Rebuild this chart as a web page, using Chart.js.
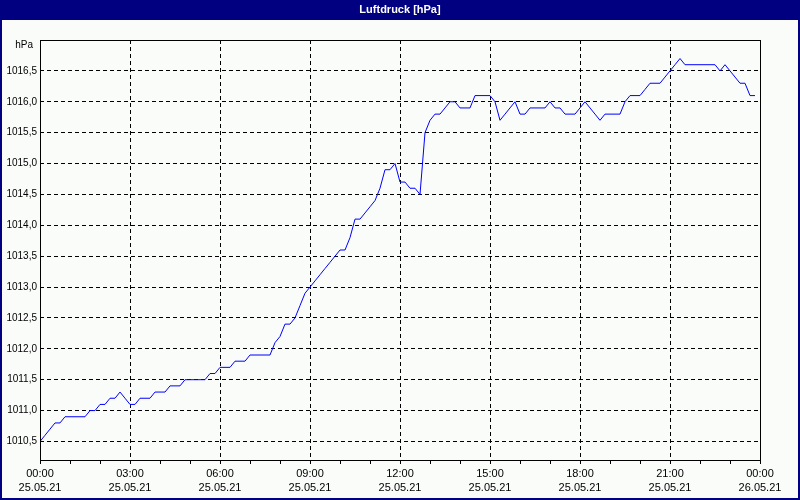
<!DOCTYPE html>
<html lang="de">
<head>
  <meta charset="UTF-8" />
  <title>Luftdruck</title>
  <script src="https://cdn.jsdelivr.net/npm/chart.js"></script>
  <style>
    body { margin: 0; background: #ffffff; }
    canvas { display: block; }
  </style>
</head>
<body>
  <canvas id="chart" width="800" height="500"></canvas>

  <script>
    const TITLE = 'Luftdruck [hPa]';
    const UNIT = 'hPa';

    // one reading every 10 minutes, 25.05.21 00:00 .. 23:50 (6 per row = 1 hour)
    const STEP_MIN = 10;
    const pressure = [
      1010.5, 1010.6, 1010.7, 1010.8, 1010.8, 1010.9, // 00
      1010.9, 1010.9, 1010.9, 1010.9, 1011.0, 1011.0, // 01
      1011.1, 1011.1, 1011.2, 1011.2, 1011.3, 1011.2, // 02
      1011.1, 1011.1, 1011.2, 1011.2, 1011.2, 1011.3, // 03
      1011.3, 1011.3, 1011.4, 1011.4, 1011.4, 1011.5, // 04
      1011.5, 1011.5, 1011.5, 1011.5, 1011.6, 1011.6, // 05
      1011.7, 1011.7, 1011.7, 1011.8, 1011.8, 1011.8, // 06
      1011.9, 1011.9, 1011.9, 1011.9, 1011.9, 1012.1, // 07
      1012.2, 1012.4, 1012.4, 1012.5, 1012.7, 1012.9, // 08
      1013.0, 1013.1, 1013.2, 1013.3, 1013.4, 1013.5, // 09
      1013.6, 1013.6, 1013.8, 1014.1, 1014.1, 1014.2, // 10
      1014.3, 1014.4, 1014.6, 1014.9, 1014.9, 1015.0, // 11
      1014.7, 1014.7, 1014.6, 1014.6, 1014.5, 1015.5, // 12
      1015.7, 1015.8, 1015.8, 1015.9, 1016.0, 1016.0, // 13
      1015.9, 1015.9, 1015.9, 1016.1, 1016.1, 1016.1, // 14
      1016.1, 1016.0, 1015.7, 1015.8, 1015.9, 1016.0, // 15
      1015.8, 1015.8, 1015.9, 1015.9, 1015.9, 1015.9, // 16
      1016.0, 1015.9, 1015.9, 1015.8, 1015.8, 1015.8, // 17
      1015.9, 1016.0, 1015.9, 1015.8, 1015.7, 1015.8, // 18
      1015.8, 1015.8, 1015.8, 1016.0, 1016.1, 1016.1, // 19
      1016.1, 1016.2, 1016.3, 1016.3, 1016.3, 1016.4, // 20
      1016.5, 1016.6, 1016.7, 1016.6, 1016.6, 1016.6, // 21
      1016.6, 1016.6, 1016.6, 1016.6, 1016.5, 1016.6, // 22
      1016.5, 1016.4, 1016.3, 1016.3, 1016.1, 1016.1  // 23
    ];

    // x axis labels, every 3 hours
    const xTickTimes = ['00:00', '03:00', '06:00', '09:00', '12:00', '15:00', '18:00', '21:00', '00:00'];
    const xTickDates = ['25.05.21', '25.05.21', '25.05.21', '25.05.21', '25.05.21', '25.05.21', '25.05.21', '25.05.21', '26.05.21'];

    const yTicks = [1010.5, 1011.0, 1011.5, 1012.0, 1012.5, 1013.0, 1013.5, 1014.0, 1014.5, 1015.0, 1015.5, 1016.0, 1016.5];
    const yMin = 1010.2;
    const yMax = 1017.0;

    const FONT = 'Liberation Sans, Arial, sans-serif';
    const NAVY = '#000080';
    const GRID_DASH = [4, 3];

    const points = pressure.map((v, i) => ({ x: i * STEP_MIN / 60, y: v }));

    // background, title bar, outer frame and the plot box
    const framePlugin = {
      id: 'frame',
      beforeDraw(chart) {
        const c = chart.ctx;
        c.save();
        c.fillStyle = '#fafcfa';
        c.fillRect(0, 0, chart.width, chart.height);
        c.fillStyle = NAVY;
        c.fillRect(0, 0, chart.width, 20);
        c.fillStyle = '#ffffff';
        c.font = 'bold 11px ' + FONT;
        c.textAlign = 'center';
        c.textBaseline = 'middle';
        c.fillText(TITLE, chart.width / 2, 10);
        c.strokeStyle = NAVY;
        c.lineWidth = 2;
        c.strokeRect(1, 1, chart.width - 2, chart.height - 2);
        c.restore();
      },
      afterDraw(chart) {
        const a = chart.chartArea;
        const c = chart.ctx;
        c.save();
        c.strokeStyle = '#000000';
        c.lineWidth = 1;
        c.strokeRect(Math.round(a.left) + 0.5, Math.round(a.top) + 0.5,
          Math.round(a.right - a.left), Math.round(a.bottom - a.top));
        c.fillStyle = '#000000';
        c.font = '10px ' + FONT;
        c.textAlign = 'right';
        c.textBaseline = 'middle';
        c.fillText(UNIT, a.left - 7, a.top + 5);
        c.restore();
      }
    };

    new Chart(document.getElementById('chart'), {
      type: 'line',
      data: {
        datasets: [{
          label: TITLE,
          data: points,
          borderColor: '#0000ff',
          borderWidth: 1,
          pointRadius: 0,
          tension: 0,
          fill: false
        }]
      },
      options: {
        responsive: false,
        animation: false,
        devicePixelRatio: 1,
        layout: { padding: { top: 40, right: 40, left: 0, bottom: 0 } },
        plugins: {
          legend: { display: false },
          title: { display: false },
          tooltip: { enabled: false }
        },
        scales: {
          x: {
            type: 'linear',
            min: 0,
            max: 24,
            afterFit: s => { s.height = 40; },
            ticks: {
              stepSize: 1,
              autoSkip: false,
              maxRotation: 0,
              padding: 2,
              color: '#000000',
              font: { family: FONT, size: 11, lineHeight: 1.36 },
              callback: v => v % 3 === 0 ? [xTickTimes[v / 3], xTickDates[v / 3]] : ''
            },
            grid: {
              color: ctx => (ctx.tick && ctx.tick.value % 3 === 0 && ctx.tick.value > 0 && ctx.tick.value < 24) ? '#000000' : 'rgba(0,0,0,0)',
              tickColor: '#000000',
              tickLength: 4,
              lineWidth: 1
            },
            border: { display: false, dash: GRID_DASH }
          },
          y: {
            min: yMin,
            max: yMax,
            afterFit: s => { s.width = 40; },
            afterBuildTicks: s => { s.ticks = yTicks.map(v => ({ value: v })); },
            ticks: {
              padding: 3,
              color: '#000000',
              font: { family: FONT, size: 10 },
              callback: v => v.toFixed(1).replace('.', ',')
            },
            grid: {
              color: '#000000',
              drawTicks: false,
              lineWidth: 1
            },
            border: { display: false, dash: GRID_DASH }
          }
        }
      },
      plugins: [framePlugin]
    });
  </script>
</body>
</html>
